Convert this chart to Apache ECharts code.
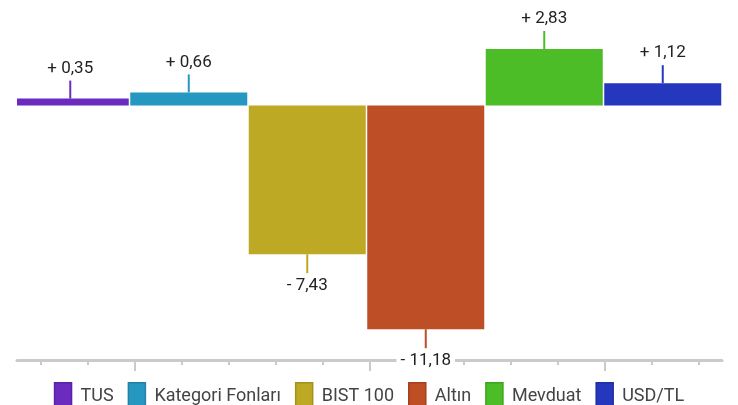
<!DOCTYPE html>
<html>
<head>
<meta charset="utf-8">
<script src="https://cdn.jsdelivr.net/npm/echarts@6/dist/echarts.min.js"></script>
<style>
html,body{margin:0;padding:0;background:#fff;}
#c{width:738px;height:405px;}
</style>
</head>
<body>
<div id="c"></div>
<script>
const categories = ['TUS', 'Kategori Fonları', 'BIST 100', 'Altın', 'Mevduat', 'USD/TL'];
const values = [0.35, 0.66, -7.43, -11.18, 2.83, 1.12];
const colors = ['#6b2bbf', '#2597c0', '#bda924', '#bd4e26', '#4cbd26', '#2538bd'];
const borderColors = ['#5a22a6', '#1f82a6', '#a3911c', '#a3411e', '#3fa31e', '#1e2fa3'];
const majorTicks = [1, 3, 5];
const minorTicks = [0.2, 0.6, 1.4, 1.8, 2.2, 2.6, 3.4, 3.8, 4.2, 4.6, 5.4, 5.8];

const FONT = 'Roboto';
function fmt(v) {
  return (v >= 0 ? '+ ' : '- ') + Math.abs(v).toFixed(2).replace('.', ',');
}

function makeRender(color) {
  return function (params, api) {
    const x = api.value(0), v = api.value(1);
    const p0 = api.coord([x, 0]);
    const p1 = api.coord([x, v]);
    const w = api.size([1, 0])[0] - 1.5;
    const cs = params.coordSys;
    const rect = echarts.graphic.clipRectByRect(
      { x: p0[0] - w / 2, y: Math.min(p0[1], p1[1]), width: w, height: Math.abs(p1[1] - p0[1]) },
      { x: cs.x, y: cs.y, width: cs.width, height: cs.height }
    );
    const cx = p0[0];
    const pos = v >= 0;
    const edge = p1[1];
    const lineLen = pos ? 18 : 19;
    const lineEnd = pos ? edge - lineLen : edge + lineLen;
    return {
      type: 'group',
      children: [
        { type: 'rect', shape: rect, style: { fill: color } },
        { type: 'line', shape: { x1: cx, y1: edge, x2: cx, y2: lineEnd }, style: { stroke: color, lineWidth: 2 } },
        {
          type: 'text', x: cx, y: pos ? lineEnd - 12 : lineEnd + 13, z2: 20,
          style: {
            text: fmt(v), fill: '#222', fontSize: 17, fontFamily: FONT,
            align: 'center', verticalAlign: 'middle', backgroundColor: '#fff', padding: [2, 4]
          }
        }
      ]
    };
  };
}

const series = categories.map((name, i) => ({
  name: name,
  type: 'custom',
  xAxisIndex: 0,
  yAxisIndex: 0,
  clip: false,
  data: [[i, values[i]]],
  encode: { x: 0, y: 1 },
  itemStyle: { color: colors[i] },
  renderItem: makeRender(colors[i]),
  emphasis: { disabled: true }
}));

const chart = echarts.init(document.getElementById('c'), null, { renderer: 'canvas' });
chart.setOption({
  animation: false,
  backgroundColor: '#fff',
  grid: { left: 17, right: 16, top: 0, bottom: 45, containLabel: false },
  legend: {
    left: 'center',
    top: 377,
    itemWidth: 17,
    itemHeight: 27,
    itemGap: 14,
    textStyle: { fontFamily: FONT, fontSize: 18, color: '#444', padding: [0, 0, 0, 4] },
    data: categories.map((n, i) => ({ name: n, icon: 'rect', itemStyle: { color: colors[i], borderColor: borderColors[i], borderWidth: 1.5 } }))
  },
  xAxis: [
    {
      type: 'value', position: 'bottom', min: -0.4494, max: 5.5,
      axisLine: { show: false, onZero: false }, axisTick: { show: false },
      axisLabel: { show: false }, splitLine: { show: false }
    },
    {
      type: 'value', position: 'bottom', min: 0, max: 6,
      axisLine: { show: true, onZero: false, lineStyle: { color: '#cacaca', width: 3 } },
      axisTick: { show: true, customValues: majorTicks, length: 11, lineStyle: { color: '#cacaca', width: 2 } },
      axisLabel: { show: false }, splitLine: { show: false }
    },
    {
      type: 'value', position: 'bottom', min: 0, max: 6,
      axisLine: { show: false, onZero: false },
      axisTick: { show: true, customValues: minorTicks, length: 5, lineStyle: { color: '#cacaca', width: 2 } },
      axisLabel: { show: false }, splitLine: { show: false }
    }
  ],
  yAxis: {
    type: 'value', min: -12.72, max: 5.28, show: false,
    splitLine: { show: false }
  },
  series: series
});
</script>
</body>
</html>
